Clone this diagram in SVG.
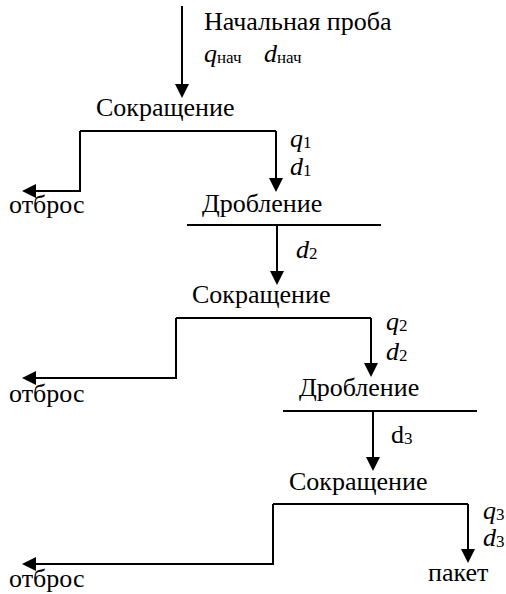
<svg xmlns="http://www.w3.org/2000/svg" width="506" height="594" viewBox="0 0 506 594">
<style>
text{font-size:26px;fill:#000}
.i{font-style:italic}
.s{font-size:17px;font-style:normal}
.c{fill:none;stroke:#000;stroke-width:2}
.a{marker-end:url(#ah)}
</style>
<defs>
<marker id="ah" markerUnits="userSpaceOnUse" markerWidth="14" markerHeight="14" refX="6" refY="7" orient="auto">
<path d="M0,0 L14,7 L0,14 z" fill="#000"/>
</marker>
</defs>
<rect width="506" height="594" fill="#fff"/>
<g id="connectors">
<path class="c a" d="M182,6 V90"/>
<path class="c" d="M80,131 H276"/>
<path class="c a" d="M80,131 V191 H30"/>
<path class="c a" d="M276,131 V184"/>
<path class="c" d="M187,225 H381"/>
<path class="c a" d="M277,225 V277"/>
<path class="c" d="M176,318 H371"/>
<path class="c a" d="M176,318 V378 H30"/>
<path class="c a" d="M371,318 V369"/>
<path class="c" d="M283,411 H477"/>
<path class="c a" d="M373,411 V463"/>
<path class="c" d="M273,504 H468"/>
<path class="c a" d="M273,504 V564 H30"/>
<path class="c a" d="M468,504 V555"/>
</g>
<g font-family="Liberation Serif, Times New Roman, serif">
<g id="start">
<text x="204" y="30">Начальная проба</text>
<text x="204" y="62"><tspan class="i">q</tspan><tspan class="s" dy="1">нач</tspan><tspan class="i" x="264" dy="-1">d</tspan><tspan class="s" dy="1">нач</tspan></text>
</g>
<g id="reduce1"><text x="96" y="116">Сокращение</text></g>
<g id="q1d1"><text x="290" y="147"><tspan class="i">q</tspan><tspan class="s" dy="1">1</tspan></text><text x="290" y="175"><tspan class="i">d</tspan><tspan class="s" dy="1">1</tspan></text></g>
<g id="waste1"><text x="9" y="213">отброс</text></g>
<g id="crush1"><text x="202" y="212">Дробление</text></g>
<g id="d2a"><text x="296" y="258"><tspan class="i">d</tspan><tspan class="s" dy="1">2</tspan></text></g>
<g id="reduce2"><text x="192" y="303">Сокращение</text></g>
<g id="q2d2"><text x="386" y="330"><tspan class="i">q</tspan><tspan class="s" dy="1">2</tspan></text><text x="386" y="360"><tspan class="i">d</tspan><tspan class="s" dy="1">2</tspan></text></g>
<g id="waste2"><text x="9" y="402">отброс</text></g>
<g id="crush2"><text x="299" y="396">Дробление</text></g>
<g id="d3a"><text x="391" y="443">d<tspan class="s" dy="1">3</tspan></text></g>
<g id="reduce3"><text x="289" y="490">Сокращение</text></g>
<g id="q3d3"><text x="483" y="519"><tspan class="i">q</tspan><tspan class="s" dy="1">3</tspan></text><text x="483" y="546"><tspan class="i">d</tspan><tspan class="s" dy="1">3</tspan></text></g>
<g id="package"><text x="428" y="581">пакет</text></g>
<g id="waste3"><text x="9" y="587">отброс</text></g>
</g>
</svg>
